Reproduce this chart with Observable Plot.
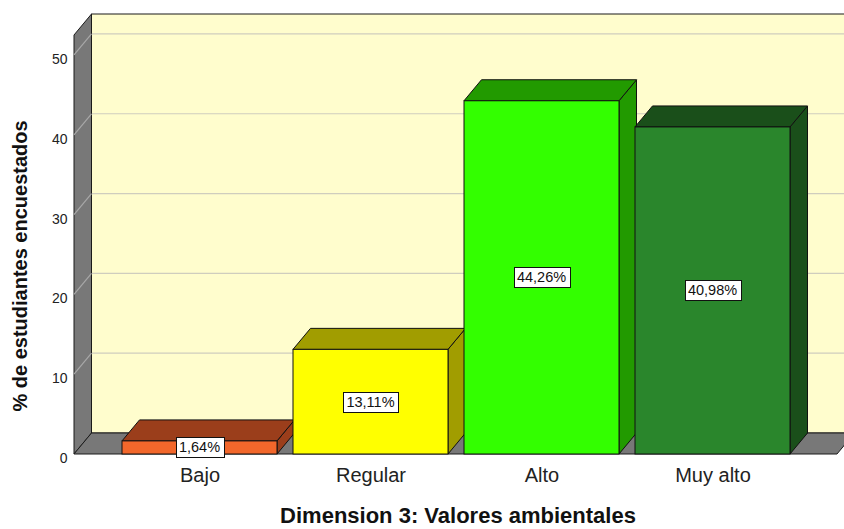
<!DOCTYPE html>
<html><head><meta charset="utf-8">
<script src="https://cdn.jsdelivr.net/npm/d3@7"></script>
<script src="https://cdn.jsdelivr.net/npm/@observablehq/plot@0.6"></script>
<style>
html,body{margin:0;padding:0;background:#fff;overflow:hidden}
svg{overflow:hidden}
</style>
</head><body><div id="chart"></div>
<script>
const categories = ["Bajo", "Regular", "Alto", "Muy alto"];
const percents = [1.64, 13.11, 44.26, 40.98];
const valueLabels = ["1,64%", "13,11%", "44,26%", "40,98%"];
const yTicks = [0, 10, 20, 30, 40, 50];
const yMax = 52.5;
const frontColors = ["#F2672B", "#FFFF00", "#33FF00", "#2A862C"];
const shadeColors = ["#9B3E1B", "#A19D00", "#229A00", "#1A4F1A"];
const xTitle = "Dimension 3: Valores ambientales";
const yTitle = "% de estudiantes encuestados";

const data = categories.map((c, i) => ({cat: c, pct: percents[i], label: valueLabels[i], front: frontColors[i], shade: shadeColors[i]}));

const FONT = "'Liberation Sans', Arial, Helvetica, sans-serif";
const DX = 17.5, DY = -21;
const NS = "http://www.w3.org/2000/svg";
function el(tag, attrs) { const e = document.createElementNS(NS, tag); for (const k in attrs) e.setAttribute(k, attrs[k]); return e; }
function poly(pts, fill, stroke, sw) { return el("polygon", {points: pts.map(p => p.join(",")).join(" "), fill, stroke, "stroke-width": sw ?? 1, "stroke-linejoin": "round"}); }
function findArgs(args) {
  let scales, dims;
  for (const a of args) {
    if (a && typeof a.x === "function" && typeof a.y === "function" && !scales) scales = a;
    if (a && typeof a.width === "number" && typeof a.marginLeft === "number") dims = a;
  }
  return {scales, dims};
}
function bw(x) { return typeof x.bandwidth === "function" ? x.bandwidth() : x.bandwidth; }

// walls, floor and gridlines
function wallsMark(...args) {
  const {scales: {y}, dims} = findArgs(args);
  const x0 = dims.marginLeft, x1 = dims.width - dims.marginRight;
  const yb = y(0), yt = y(yMax);
  const g = el("g", {});
  g.appendChild(el("rect", {x: x0 + DX, y: yt + DY, width: x1 - x0 + 40, height: yb - yt, fill: "#FFFDCD", stroke: "#1a1a1a", "stroke-width": 1}));
  for (const v of yTicks) {
    if (v === 0) continue;
    const yy = y(v);
    g.appendChild(el("line", {x1: x0 + DX, x2: x1 + DX + 40, y1: yy + DY, y2: yy + DY, stroke: "#CFCDBE", "stroke-width": 1.2}));
  }
  g.appendChild(poly([[x0, yb], [x0, yt], [x0 + DX, yt + DY], [x0 + DX, yb + DY]], "#787878", "#1a1a1a", 1));
  for (const v of yTicks) {
    if (v === 0) continue;
    const yy = y(v);
    g.appendChild(el("line", {x1: x0, x2: x0 + DX, y1: yy, y2: yy + DY, stroke: "#A8A8A8", "stroke-width": 1.2}));
  }
  g.appendChild(poly([[x0, yb], [x1, yb], [x1 + DX, yb + DY], [x0 + DX, yb + DY]], "#787878", "#1a1a1a", 1));
  return g;
}

// top and side faces of the bars
function facesMark(...args) {
  const {scales: {x, y}} = findArgs(args);
  const w = bw(x);
  const g = el("g", {});
  for (const d of data) {
    const xl = x(d.cat), xr = xl + w, yv = y(d.pct), yb = y(0);
    g.appendChild(poly([[xr, yb], [xr + DX, yb + DY], [xr + DX, yv + DY], [xr, yv]], d.shade, "#111", 1));
    g.appendChild(poly([[xl, yv], [xr, yv], [xr + DX, yv + DY], [xl + DX, yv + DY]], d.shade, "#111", 1));
  }
  return g;
}

// boxed value labels
const ctx = document.createElement("canvas").getContext("2d");
function labelsMark(...args) {
  const {scales: {x, y}} = findArgs(args);
  const w = bw(x);
  const g = el("g", {});
  ctx.font = "14.5px 'Liberation Sans', Arial, sans-serif";
  for (const d of data) {
    const cx = x(d.cat) + w / 2, cy = (y(d.pct) + y(0)) / 2;
    const tw = ctx.measureText(d.label).width;
    const bwid = Math.round(tw + 7), bh = 20;
    g.appendChild(el("rect", {x: Math.round(cx - bwid / 2) + 0.5, y: Math.round(cy - bh / 2) + 0.5, width: bwid, height: bh, fill: "#fff", stroke: "#111", "stroke-width": 1}));
    const t = el("text", {x: cx, y: cy + 5, "text-anchor": "middle", "font-size": 14.5, fill: "#111", "font-family": FONT});
    t.textContent = d.label;
    g.appendChild(t);
  }
  return g;
}

const chart = Plot.plot({
  width: 844,
  height: 529,
  marginLeft: 74,
  marginRight: 7,
  marginTop: 35,
  marginBottom: 75,
  style: {fontFamily: FONT, color: "#222", background: "#fff"},
  x: {domain: categories, paddingInner: 0.096, paddingOuter: 0.2725, align: 0.5},
  y: {domain: [0, yMax]},
  color: {type: "identity"},
  marks: [
    wallsMark,
    facesMark,
    Plot.rectY(data, {x: "cat", y: "pct", fill: "front", stroke: "#111", strokeWidth: 1}),
    labelsMark,
    Plot.axisY({ticks: yTicks, tickSize: 0, tickPadding: 7, fontSize: 14, dy: 4, label: null, tickFormat: d => String(d)}),
    Plot.axisX({tickSize: 0, tickPadding: 13, fontSize: 20, label: null}),
    Plot.text([yTitle], {frameAnchor: "left", textAnchor: "middle", dx: -54, dy: 21, rotate: -90, fontSize: 20, fontWeight: "bold", fill: "#111"}),
    Plot.text([xTitle], {frameAnchor: "bottom", textAnchor: "middle", dx: 2, dy: 68, fontSize: 22, fontWeight: "bold", fill: "#111"})
  ]
});
document.getElementById("chart").appendChild(chart);
</script>
</body></html>
